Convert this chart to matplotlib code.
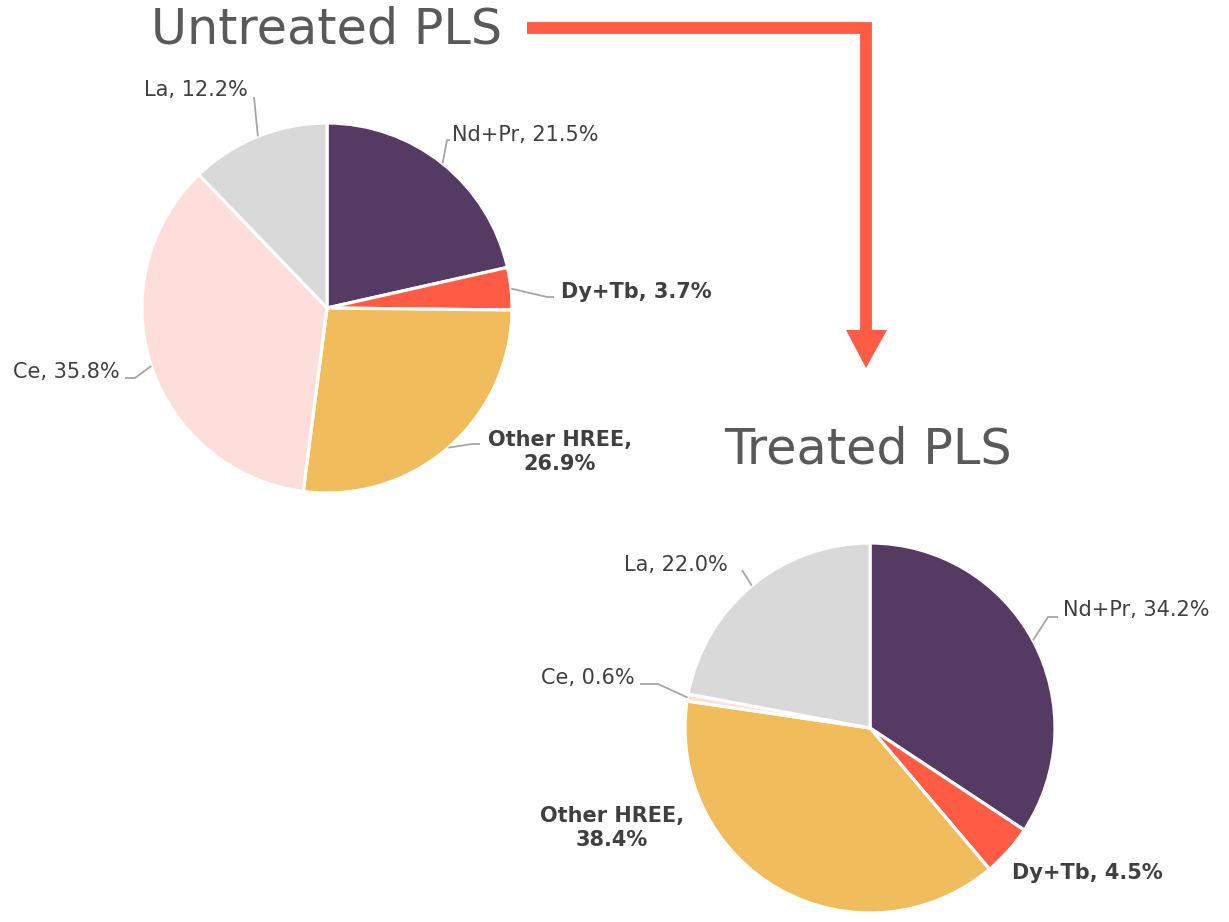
import numpy as np
import matplotlib
matplotlib.use("Agg")
import matplotlib.pyplot as plt
from matplotlib.patches import Polygon

# data
labels = ["Nd+Pr", "Dy+Tb", "Other HREE", "Ce", "La"]
untreated = [21.5, 3.7, 26.9, 35.8, 12.2]
treated = [34.2, 4.5, 38.4, 0.6, 22.0]
colors = ["#553A64", "#FF5B45", "#F1BC5C", "#FDDEDB", "#D9D9D9"]
bold = [False, True, True, False, False]

W, H = 1229, 922
fig = plt.figure(figsize=(W / 100, H / 100), dpi=100)
ax = fig.add_axes([0, 0, 1, 1])

def fy(y):
    return H - y

R = 185
TXT = "#404040"

def draw_pie(vals, cx, cy, lab_pos):
    wedges, _ = ax.pie(vals, colors=colors, startangle=90, counterclock=False,
                       center=(cx, fy(cy)), radius=R, frame=True,
                       wedgeprops=dict(edgecolor="white", linewidth=2.3))
    for i, w in enumerate(wedges):
        name = labels[i]
        txt = "%s, %.1f%%" % (name, vals[i])
        if name == "Other HREE":
            txt = "%s,\n%.1f%%" % (name, vals[i])
        tx, ty, ha, path = lab_pos[name]
        ax.text(tx, fy(ty), txt, ha=ha, va="center", color=TXT,
                fontsize=15 if bold[i] else 15,
                fontweight="bold" if bold[i] else "normal",
                linespacing=1.3, multialignment="center")
        if path:
            mid = np.deg2rad((w.theta1 + w.theta2) / 2)
            ex = cx + R * np.cos(mid)
            ey = fy(cy) + R * np.sin(mid)
            xs = [ex] + [p[0] for p in path]
            ys = [ey] + [fy(p[1]) for p in path]
            ax.plot(xs, ys, color="#A6A6A6", lw=1.3, solid_capstyle="butt")
    return wedges

pos1 = {
    "Nd+Pr": (452, 135, "left", [(447, 140), (450, 140)]),
    "Dy+Tb": (561, 292, "left", [(547, 297), (554, 297)]),
    "Other HREE": (560, 452, "center", [(472, 444), (480, 444)]),
    "Ce": (120, 372, "right", [(135, 378), (125, 378)]),
    "La": (248, 90, "right", [(254, 97)]),
}
pos2 = {
    "Nd+Pr": (1063, 610, "left", [(1048, 617), (1058, 617)]),
    "Dy+Tb": (1087, 873, "center", None),
    "Other HREE": (612, 828, "center", None),
    "Ce": (635, 678, "right", [(658, 684), (640, 684)]),
    "La": (728, 565, "right", [(742, 570)]),
}

draw_pie(untreated, 327, 308, pos1)
draw_pie(treated, 870, 728, pos2)
ax.set_xlim(0, W)
ax.set_ylim(0, H)
ax.set_aspect("equal")
ax.axis("off")

ax.text(327, fy(30), "Untreated PLS", ha="center", va="center",
        fontsize=35.5, color="#595959")
ax.text(868, fy(450), "Treated PLS", ha="center", va="center",
        fontsize=35.5, color="#595959")

# arrow
ac = "#FF5B45"
ax.plot([527, 866, 866], [fy(28), fy(28), fy(332)], color=ac, lw=8.5,
        solid_joinstyle="miter", solid_capstyle="butt")
ax.add_patch(Polygon([(846, fy(330)), (887, fy(330)), (866, fy(368))],
                     closed=True, color=ac, lw=0))

fig.savefig("out.png", dpi=100)
